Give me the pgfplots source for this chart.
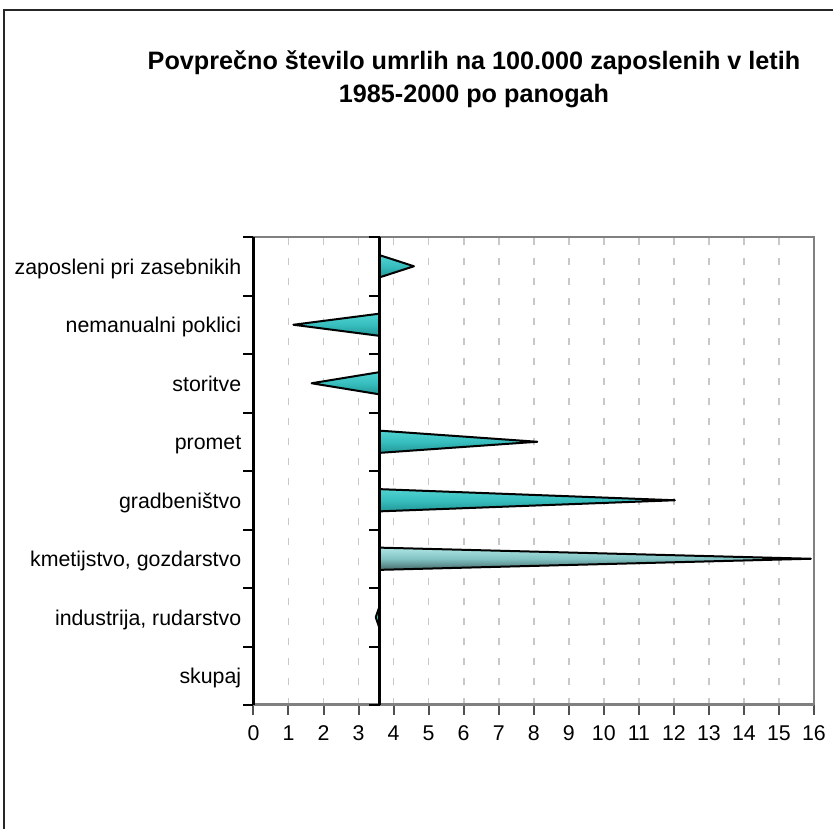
\documentclass[border=0pt]{standalone}
\usepackage{fontspec}
\setmainfont{Liberation Sans}
\usepackage{pgfplots}
\pgfplotsset{compat=1.18}
\definecolor{conetop}{RGB}{80,210,210}
\definecolor{conemid}{RGB}{55,190,190}
\definecolor{conebot}{RGB}{35,150,150}
\definecolor{agtop}{RGB}{175,228,228}
\definecolor{agmid}{RGB}{130,195,195}
\definecolor{agbot}{RGB}{70,105,105}
\definecolor{gridgray}{RGB}{200,200,200}
\definecolor{bordergray}{RGB}{128,128,128}
\definecolor{xtickgray}{RGB}{80,80,80}
\begin{document}
\begin{tikzpicture}
\useasboundingbox (0,0) rectangle (624.75pt,621.75pt);
\draw[line width=1.1pt, black!85] (3pt,0) -- (3pt,614.25pt) -- (624.75pt,614.25pt);
\node[align=center, font=\fontsize{18.9}{24.75}\selectfont\bfseries] at (355.5pt,562.2pt)
  {Povprečno število umrlih na 100.000 zaposlenih v letih\\1985-2000 po panogah};
\begin{axis}[
  at={(190.1pt,93pt)}, anchor=south west, scale only axis,
  width=420.4pt, height=351pt,
  xmin=0, xmax=16, ymin=-0.5, ymax=7.5,
  xtick={0,...,16},
  ytick={0,...,7},
  yticklabels={skupaj,{industrija, rudarstvo},{kmetijstvo, gozdarstvo},gradbeništvo,{promet\ },storitve,{nemanualni poklici},{zaposleni pri zasebnikih}},
  minor ytick={-0.5,0.5,...,7.5},
  every major y tick/.append style={draw=none},
  every major x tick/.append style={xtickgray},
  tick align=outside, xtick pos=bottom, ytick pos=left,
  major tick length=7.5pt, minor tick length=7.5pt,
  tick style={black, line width=1.5pt},
  axis line style={draw=none},
  xmajorgrids=true,
  major grid style={gridgray, line width=1.3pt, dash pattern=on 5pt off 10pt},
  /pgf/number format/assume math mode=true,
  tick label style={font=\fontsize{16}{19}\selectfont},
  yticklabel style={anchor=base east, inner sep=0pt, xshift=-1.5pt, yshift=-6pt},
  xticklabel style={anchor=north, inner sep=0pt, yshift=-8pt},
  clip=false,
]
% tips of the cones (base at 3.6)
\addplot[draw=black, line width=1.5pt, line join=round, top color=conetop, bottom color=conebot, middle color=conemid] coordinates {(3.6,6.81) (4.58,7) (3.6,7.19)} -- cycle;
\addplot[draw=black, line width=1.5pt, line join=round, top color=conetop, bottom color=conebot, middle color=conemid] coordinates {(3.6,5.81) (1.14,6) (3.6,6.19)} -- cycle;
\addplot[draw=black, line width=1.5pt, line join=round, top color=conetop, bottom color=conebot, middle color=conemid] coordinates {(3.6,4.81) (1.66,5) (3.6,5.19)} -- cycle;
\addplot[draw=black, line width=1.5pt, line join=round, top color=conetop, bottom color=conebot, middle color=conemid] coordinates {(3.6,3.81) (8.10,4) (3.6,4.19)} -- cycle;
\addplot[draw=black, line width=1.5pt, line join=round, top color=conetop, bottom color=conebot, middle color=conemid] coordinates {(3.6,2.81) (12.03,3) (3.6,3.19)} -- cycle;
\addplot[draw=black, line width=1.5pt, line join=round, top color=agtop, bottom color=agbot, middle color=agmid] coordinates {(3.6,1.81) (15.91,2) (3.6,2.19)} -- cycle;
\addplot[draw=black, line width=1.5pt, line join=round, top color=conetop, bottom color=conebot, middle color=conemid] coordinates {(3.6,0.81) (3.49,1) (3.6,1.19)} -- cycle;
\addplot[draw=none, fill=none] coordinates {(3.6,-0.19) (3.6,0) (3.6,0.19)};
% borders
\draw[bordergray, line width=1.5pt] (rel axis cs:0,1) -- (rel axis cs:1,1) -- (rel axis cs:1,0);
\draw[bordergray, line width=2.25pt] (rel axis cs:0,0) -- (rel axis cs:1,0);
\draw[black, line width=2.25pt] (rel axis cs:0,0) -- (rel axis cs:0,1);
\draw[black, line width=2.25pt] (axis cs:3.6,-0.5) -- (axis cs:3.6,7.5);
\pgfplotsinvokeforeach{-0.5,0.5,...,7.5}{
  \draw[black, line width=1.5pt] (axis cs:3.31,#1) -- (axis cs:3.6,#1);
}
\end{axis}
\end{tikzpicture}
\end{document}
